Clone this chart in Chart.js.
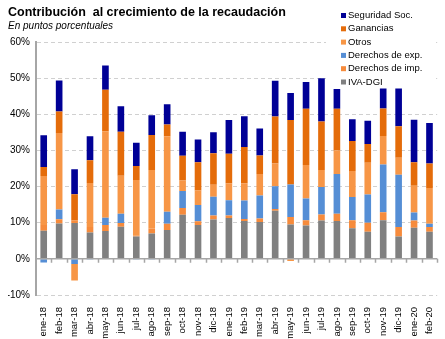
<!DOCTYPE html>
<html>
<head>
<meta charset="utf-8">
<script src="https://cdn.jsdelivr.net/npm/chart.js@4.4.1/dist/chart.umd.min.js"></script>
<style>
  html, body { margin: 0; padding: 0; background: #fff; }
</style>
</head>
<body>
<canvas id="myChart" width="445" height="339"></canvas>
<script>
// months, ene-18 .. feb-20
var months = ['ene-18', 'feb-18', 'mar-18', 'abr-18', 'may-18', 'jun-18', 'jul-18', 'ago-18', 'sep-18',
  'oct-18', 'nov-18', 'dic-18', 'ene-19', 'feb-19', 'mar-19', 'abr-19', 'may-19', 'jun-19', 'jul-19',
  'ago-19', 'sep-19', 'oct-19', 'nov-19', 'dic-19', 'ene-20', 'feb-20'];

// contributions in percentage points
var ivaDgi = [7.8, 9.75, 9.9, 7.3, 7.7, 8.9, 6.2, 7.0, 8.0, 12.2, 9.4, 10.9, 11.3, 10.5, 10.2, 13.3, 9.5, 9.2, 10.6, 10.5, 8.5, 7.5, 10.7, 6.2, 8.6, 7.5];
var derImp = [1.6, 1.2, 0.7, 1.5, 1.7, 1.0, 0.2, 1.4, 1.7, 1.9, 1.0, 1.1, 0.7, 0.55, 1.0, 0.5, 2.1, 1.5, 1.7, 2.0, 2.2, 2.5, 2.2, 2.6, 2.0, 1.3];
var derExp = [-1.0, 2.7, -1.4, -0.2, 2.0, 2.6, -0.2, -0.2, 3.3, 4.7, 4.5, 5.2, 4.2, 5.1, 6.3, 6.3, 9.0, 6.0, 7.6, 11.0, 6.4, 7.8, 13.2, 14.5, 2.2, 0.9];
var otros = [13.5, 21.2, -4.6, 12.2, 23.9, 10.5, 15.4, 16.2, 20.9, 2.9, 4.0, 3.3, 4.7, 4.8, 6.0, 6.3, -0.6, 9.3, 4.7, 6.5, 7.2, 8.8, 7.9, 4.7, 7.4, 9.9];
var ganancias = [2.5, 5.9, 7.3, 6.3, 11.5, 12.2, 3.9, 9.7, 3.3, 6.8, 7.8, 8.7, 8.2, 10.0, 5.1, 13.0, 17.8, 15.5, 13.4, 11.5, 8.3, 5.2, 7.6, 8.7, 6.5, 6.8];
var segSoc = [8.8, 8.6, 6.9, 6.6, 6.7, 7.0, 6.4, 5.4, 5.6, 6.7, 6.3, 5.8, 9.3, 8.5, 7.5, 9.9, 7.5, 7.4, 12.0, 5.5, 6.0, 6.4, 5.5, 10.4, 11.8, 11.2];

var yTicks = [-10, 0, 10, 20, 30, 40, 50, 60];

var FONT = '"Liberation Sans", Arial, sans-serif';

// legend in the top right corner, on a white patch over the grid
var cornerLegend = {
  id: 'cornerLegend',
  afterDraw: function(chart) {
    var ctx = chart.ctx;
    var sets = chart.data.datasets;
    ctx.save();
    ctx.fillStyle = '#fff';
    ctx.fillRect(326, 6, 108, 82);
    ctx.font = '9.5px ' + FONT;
    ctx.textBaseline = 'middle';
    var row = 0;
    for (var i = sets.length - 1; i >= 0; i--) {
      var y = 15.5 + row * 13.3;
      ctx.fillStyle = sets[i].backgroundColor;
      ctx.fillRect(341, y - 2.5, 5, 5);
      ctx.fillStyle = '#000';
      ctx.fillText(sets[i].label, 348, y);
      row++;
    }
    ctx.restore();
  }
};

// the 0% line with its little category ticks
var zeroAxis = {
  id: 'zeroAxis',
  afterDatasetsDraw: function(chart) {
    var ctx = chart.ctx;
    var xs = chart.scales.x, ys = chart.scales.y;
    var y0 = ys.getPixelForValue(0);
    var n = chart.data.labels.length;
    var w = (xs.right - xs.left) / n;
    ctx.save();
    ctx.strokeStyle = '#a6a6a6';
    ctx.lineWidth = 1.5;
    ctx.beginPath();
    ctx.moveTo(xs.left, y0);
    ctx.lineTo(xs.right, y0);
    for (var i = 1; i <= n; i++) {
      var px = Math.round(xs.left + i * w) + 0.5;
      ctx.moveTo(px, y0);
      ctx.lineTo(px, y0 + 4);
    }
    ctx.stroke();
    ctx.restore();
  }
};

function makeSet(label, values, color) {
  return {
    label: label,
    data: values,
    backgroundColor: color,
    borderWidth: 0,
    categoryPercentage: 0.43,
    barPercentage: 1.0
  };
}

var ctx = document.getElementById('myChart').getContext('2d');
var chart = new Chart(ctx, {
  type: 'bar',
  data: {
    labels: months,
    datasets: [
      makeSet('IVA-DGI', ivaDgi, '#808080'),
      makeSet('Derechos de imp.', derImp, '#F68B3C'),
      makeSet('Derechos de exp.', derExp, '#558ED5'),
      makeSet('Otros', otros, '#F79646'),
      makeSet('Ganancias', ganancias, '#E46C0A'),
      makeSet('Seguridad Soc.', segSoc, '#000096')
    ]
  },
  options: {
    responsive: false,
    animation: false,
    layout: { padding: { left: 8, right: 6, top: 0, bottom: 0 } },
    plugins: {
      legend: { display: false },
      tooltip: { enabled: false },
      title: {
        display: true,
        text: 'Contribución  al crecimiento de la recaudación',
        align: 'start',
        color: '#000',
        font: { family: FONT, size: 12.5, weight: 'bold' },
        padding: { top: 5, bottom: 0 }
      },
      subtitle: {
        display: true,
        text: 'En puntos porcentuales',
        align: 'start',
        color: '#000',
        font: { family: FONT, size: 10, style: 'italic' },
        padding: { top: 0, bottom: 10 }
      }
    },
    scales: {
      x: {
        stacked: true,
        grid: { display: false },
        border: { display: false },
        ticks: {
          autoSkip: false,
          minRotation: 90,
          maxRotation: 90,
          padding: 4,
          color: '#000',
          font: { family: FONT, size: 9.5 }
        },
        afterFit: function(scale) { scale.height = 44; }
      },
      y: {
        stacked: true,
        min: -10,
        max: 60,
        afterBuildTicks: function(scale) {
          scale.ticks = yTicks.map(function(v) { return { value: v }; });
        },
        ticks: {
          padding: 6,
          color: '#000',
          font: { family: FONT, size: 10 },
          callback: function(v) { return v + '%'; }
        },
        grid: { color: '#d0d0d0', lineWidth: 1, drawTicks: false },
        border: { color: '#a6a6a6', width: 2, dash: [4, 3] },
        afterFit: function(scale) { scale.width = 28; }
      }
    }
  },
  plugins: [zeroAxis, cornerLegend]
});
</script>
</body>
</html>
